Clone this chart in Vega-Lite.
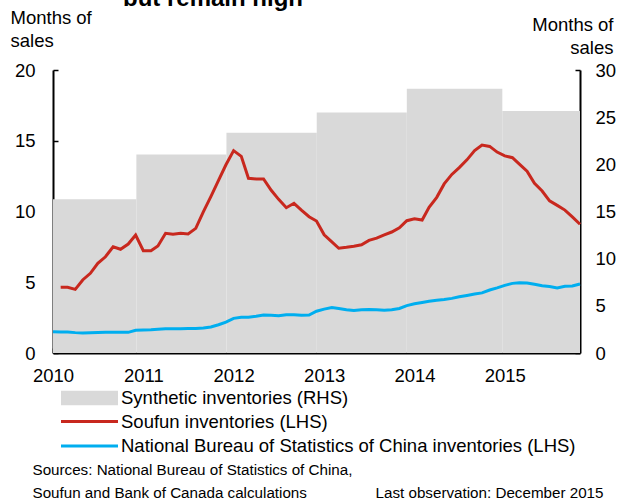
{
  "$schema": "https://vega.github.io/schema/vega-lite/v6.json",
  "width": 527,
  "height": 283,
  "autosize": {"type": "none"},
  "padding": {"left": 53, "top": 70, "right": 46, "bottom": 150},
  "title": {"text": "but remain high", "orient": "top", "anchor": "start", "frame": "group", "font": "Liberation Sans", "fontSize": 24, "fontWeight": "bold", "color": "#000000", "baseline": "alphabetic", "dx": 70, "dy": 22, "offset": 0},
  "config": {
    "view": {"stroke": null},
    "font": "Liberation Sans",
    "axis": {"labelFont": "Liberation Sans", "titleFont": "Liberation Sans", "labelColor": "#000000", "titleColor": "#000000", "domainColor": "#000000", "tickColor": "#000000", "grid": false}
  },
  "datasets": {
    "synthetic": [
      {"series": "Synthetic inventories (RHS)", "start": "2010-01-01", "end": "2010-12-04", "value": 16.3},
      {"series": "Synthetic inventories (RHS)", "start": "2010-12-04", "end": "2011-12-03", "value": 21.05},
      {"series": "Synthetic inventories (RHS)", "start": "2011-12-03", "end": "2012-12-02", "value": 23.35},
      {"series": "Synthetic inventories (RHS)", "start": "2012-12-02", "end": "2013-12-01", "value": 25.5},
      {"series": "Synthetic inventories (RHS)", "start": "2013-12-01", "end": "2014-12-22", "value": 28.0},
      {"series": "Synthetic inventories (RHS)", "start": "2014-12-22", "end": "2015-11-01", "value": 25.65}
    ],
    "monthly": [
      {"series": "Soufun inventories (LHS)", "date": "2010-02-01", "value": 4.64},
      {"series": "Soufun inventories (LHS)", "date": "2010-03-01", "value": 4.65},
      {"series": "Soufun inventories (LHS)", "date": "2010-04-01", "value": 4.5},
      {"series": "Soufun inventories (LHS)", "date": "2010-05-01", "value": 5.16},
      {"series": "Soufun inventories (LHS)", "date": "2010-06-01", "value": 5.63},
      {"series": "Soufun inventories (LHS)", "date": "2010-07-01", "value": 6.34},
      {"series": "Soufun inventories (LHS)", "date": "2010-08-01", "value": 6.8},
      {"series": "Soufun inventories (LHS)", "date": "2010-09-01", "value": 7.5},
      {"series": "Soufun inventories (LHS)", "date": "2010-10-01", "value": 7.33},
      {"series": "Soufun inventories (LHS)", "date": "2010-11-01", "value": 7.7},
      {"series": "Soufun inventories (LHS)", "date": "2010-12-01", "value": 8.34},
      {"series": "Soufun inventories (LHS)", "date": "2011-01-01", "value": 7.23},
      {"series": "Soufun inventories (LHS)", "date": "2011-02-01", "value": 7.23},
      {"series": "Soufun inventories (LHS)", "date": "2011-03-01", "value": 7.56},
      {"series": "Soufun inventories (LHS)", "date": "2011-04-01", "value": 8.46},
      {"series": "Soufun inventories (LHS)", "date": "2011-05-01", "value": 8.39},
      {"series": "Soufun inventories (LHS)", "date": "2011-06-01", "value": 8.46},
      {"series": "Soufun inventories (LHS)", "date": "2011-07-01", "value": 8.41},
      {"series": "Soufun inventories (LHS)", "date": "2011-08-01", "value": 8.81},
      {"series": "Soufun inventories (LHS)", "date": "2011-09-01", "value": 9.99},
      {"series": "Soufun inventories (LHS)", "date": "2011-10-01", "value": 11.05},
      {"series": "Soufun inventories (LHS)", "date": "2011-11-01", "value": 12.2},
      {"series": "Soufun inventories (LHS)", "date": "2011-12-01", "value": 13.3},
      {"series": "Soufun inventories (LHS)", "date": "2012-01-01", "value": 14.3},
      {"series": "Soufun inventories (LHS)", "date": "2012-02-01", "value": 13.9},
      {"series": "Soufun inventories (LHS)", "date": "2012-03-01", "value": 12.35},
      {"series": "Soufun inventories (LHS)", "date": "2012-04-01", "value": 12.3},
      {"series": "Soufun inventories (LHS)", "date": "2012-05-01", "value": 12.3},
      {"series": "Soufun inventories (LHS)", "date": "2012-06-01", "value": 11.5},
      {"series": "Soufun inventories (LHS)", "date": "2012-07-01", "value": 10.86},
      {"series": "Soufun inventories (LHS)", "date": "2012-08-01", "value": 10.27},
      {"series": "Soufun inventories (LHS)", "date": "2012-09-01", "value": 10.58},
      {"series": "Soufun inventories (LHS)", "date": "2012-10-01", "value": 10.1},
      {"series": "Soufun inventories (LHS)", "date": "2012-11-01", "value": 9.63},
      {"series": "Soufun inventories (LHS)", "date": "2012-12-01", "value": 9.33},
      {"series": "Soufun inventories (LHS)", "date": "2013-01-01", "value": 8.35},
      {"series": "Soufun inventories (LHS)", "date": "2013-02-01", "value": 7.85},
      {"series": "Soufun inventories (LHS)", "date": "2013-03-01", "value": 7.4},
      {"series": "Soufun inventories (LHS)", "date": "2013-04-01", "value": 7.47},
      {"series": "Soufun inventories (LHS)", "date": "2013-05-01", "value": 7.55},
      {"series": "Soufun inventories (LHS)", "date": "2013-06-01", "value": 7.65},
      {"series": "Soufun inventories (LHS)", "date": "2013-07-01", "value": 7.96},
      {"series": "Soufun inventories (LHS)", "date": "2013-08-01", "value": 8.12},
      {"series": "Soufun inventories (LHS)", "date": "2013-09-01", "value": 8.35},
      {"series": "Soufun inventories (LHS)", "date": "2013-10-01", "value": 8.55},
      {"series": "Soufun inventories (LHS)", "date": "2013-11-01", "value": 8.85},
      {"series": "Soufun inventories (LHS)", "date": "2013-12-01", "value": 9.35},
      {"series": "Soufun inventories (LHS)", "date": "2014-01-01", "value": 9.49},
      {"series": "Soufun inventories (LHS)", "date": "2014-02-01", "value": 9.4},
      {"series": "Soufun inventories (LHS)", "date": "2014-03-01", "value": 10.3},
      {"series": "Soufun inventories (LHS)", "date": "2014-04-01", "value": 11.0},
      {"series": "Soufun inventories (LHS)", "date": "2014-05-01", "value": 11.95},
      {"series": "Soufun inventories (LHS)", "date": "2014-06-01", "value": 12.62},
      {"series": "Soufun inventories (LHS)", "date": "2014-07-01", "value": 13.1},
      {"series": "Soufun inventories (LHS)", "date": "2014-08-01", "value": 13.65},
      {"series": "Soufun inventories (LHS)", "date": "2014-09-01", "value": 14.3},
      {"series": "Soufun inventories (LHS)", "date": "2014-10-01", "value": 14.7},
      {"series": "Soufun inventories (LHS)", "date": "2014-11-01", "value": 14.6},
      {"series": "Soufun inventories (LHS)", "date": "2014-12-01", "value": 14.2},
      {"series": "Soufun inventories (LHS)", "date": "2015-01-01", "value": 13.93},
      {"series": "Soufun inventories (LHS)", "date": "2015-02-01", "value": 13.8},
      {"series": "Soufun inventories (LHS)", "date": "2015-03-01", "value": 13.35},
      {"series": "Soufun inventories (LHS)", "date": "2015-04-01", "value": 12.85},
      {"series": "Soufun inventories (LHS)", "date": "2015-05-01", "value": 12.0},
      {"series": "Soufun inventories (LHS)", "date": "2015-06-01", "value": 11.45},
      {"series": "Soufun inventories (LHS)", "date": "2015-07-01", "value": 10.75},
      {"series": "Soufun inventories (LHS)", "date": "2015-08-01", "value": 10.43},
      {"series": "Soufun inventories (LHS)", "date": "2015-09-01", "value": 10.1},
      {"series": "Soufun inventories (LHS)", "date": "2015-10-01", "value": 9.62},
      {"series": "Soufun inventories (LHS)", "date": "2015-11-01", "value": 9.1},
      {"series": "National Bureau of Statistics of China inventories (LHS)", "date": "2010-01-01", "value": 1.51},
      {"series": "National Bureau of Statistics of China inventories (LHS)", "date": "2010-02-01", "value": 1.49},
      {"series": "National Bureau of Statistics of China inventories (LHS)", "date": "2010-03-01", "value": 1.48},
      {"series": "National Bureau of Statistics of China inventories (LHS)", "date": "2010-04-01", "value": 1.44},
      {"series": "National Bureau of Statistics of China inventories (LHS)", "date": "2010-05-01", "value": 1.42},
      {"series": "National Bureau of Statistics of China inventories (LHS)", "date": "2010-06-01", "value": 1.43},
      {"series": "National Bureau of Statistics of China inventories (LHS)", "date": "2010-07-01", "value": 1.45},
      {"series": "National Bureau of Statistics of China inventories (LHS)", "date": "2010-08-01", "value": 1.46},
      {"series": "National Bureau of Statistics of China inventories (LHS)", "date": "2010-09-01", "value": 1.46},
      {"series": "National Bureau of Statistics of China inventories (LHS)", "date": "2010-10-01", "value": 1.46},
      {"series": "National Bureau of Statistics of China inventories (LHS)", "date": "2010-11-01", "value": 1.46},
      {"series": "National Bureau of Statistics of China inventories (LHS)", "date": "2010-12-01", "value": 1.6},
      {"series": "National Bureau of Statistics of China inventories (LHS)", "date": "2011-01-01", "value": 1.63},
      {"series": "National Bureau of Statistics of China inventories (LHS)", "date": "2011-02-01", "value": 1.65},
      {"series": "National Bureau of Statistics of China inventories (LHS)", "date": "2011-03-01", "value": 1.68},
      {"series": "National Bureau of Statistics of China inventories (LHS)", "date": "2011-04-01", "value": 1.72},
      {"series": "National Bureau of Statistics of China inventories (LHS)", "date": "2011-05-01", "value": 1.72},
      {"series": "National Bureau of Statistics of China inventories (LHS)", "date": "2011-06-01", "value": 1.72},
      {"series": "National Bureau of Statistics of China inventories (LHS)", "date": "2011-07-01", "value": 1.73},
      {"series": "National Bureau of Statistics of China inventories (LHS)", "date": "2011-08-01", "value": 1.74},
      {"series": "National Bureau of Statistics of China inventories (LHS)", "date": "2011-09-01", "value": 1.76},
      {"series": "National Bureau of Statistics of China inventories (LHS)", "date": "2011-10-01", "value": 1.84},
      {"series": "National Bureau of Statistics of China inventories (LHS)", "date": "2011-11-01", "value": 2.0},
      {"series": "National Bureau of Statistics of China inventories (LHS)", "date": "2011-12-01", "value": 2.18},
      {"series": "National Bureau of Statistics of China inventories (LHS)", "date": "2012-01-01", "value": 2.45},
      {"series": "National Bureau of Statistics of China inventories (LHS)", "date": "2012-02-01", "value": 2.52},
      {"series": "National Bureau of Statistics of China inventories (LHS)", "date": "2012-03-01", "value": 2.53},
      {"series": "National Bureau of Statistics of China inventories (LHS)", "date": "2012-04-01", "value": 2.6},
      {"series": "National Bureau of Statistics of China inventories (LHS)", "date": "2012-05-01", "value": 2.68},
      {"series": "National Bureau of Statistics of China inventories (LHS)", "date": "2012-06-01", "value": 2.66},
      {"series": "National Bureau of Statistics of China inventories (LHS)", "date": "2012-07-01", "value": 2.64},
      {"series": "National Bureau of Statistics of China inventories (LHS)", "date": "2012-08-01", "value": 2.7},
      {"series": "National Bureau of Statistics of China inventories (LHS)", "date": "2012-09-01", "value": 2.71},
      {"series": "National Bureau of Statistics of China inventories (LHS)", "date": "2012-10-01", "value": 2.67},
      {"series": "National Bureau of Statistics of China inventories (LHS)", "date": "2012-11-01", "value": 2.68},
      {"series": "National Bureau of Statistics of China inventories (LHS)", "date": "2012-12-01", "value": 2.95},
      {"series": "National Bureau of Statistics of China inventories (LHS)", "date": "2013-01-01", "value": 3.1},
      {"series": "National Bureau of Statistics of China inventories (LHS)", "date": "2013-02-01", "value": 3.22},
      {"series": "National Bureau of Statistics of China inventories (LHS)", "date": "2013-03-01", "value": 3.15},
      {"series": "National Bureau of Statistics of China inventories (LHS)", "date": "2013-04-01", "value": 3.05},
      {"series": "National Bureau of Statistics of China inventories (LHS)", "date": "2013-05-01", "value": 3.0},
      {"series": "National Bureau of Statistics of China inventories (LHS)", "date": "2013-06-01", "value": 3.06},
      {"series": "National Bureau of Statistics of China inventories (LHS)", "date": "2013-07-01", "value": 3.08},
      {"series": "National Bureau of Statistics of China inventories (LHS)", "date": "2013-08-01", "value": 3.05},
      {"series": "National Bureau of Statistics of China inventories (LHS)", "date": "2013-09-01", "value": 3.02},
      {"series": "National Bureau of Statistics of China inventories (LHS)", "date": "2013-10-01", "value": 3.05},
      {"series": "National Bureau of Statistics of China inventories (LHS)", "date": "2013-11-01", "value": 3.15},
      {"series": "National Bureau of Statistics of China inventories (LHS)", "date": "2013-12-01", "value": 3.35},
      {"series": "National Bureau of Statistics of China inventories (LHS)", "date": "2014-01-01", "value": 3.48},
      {"series": "National Bureau of Statistics of China inventories (LHS)", "date": "2014-02-01", "value": 3.57},
      {"series": "National Bureau of Statistics of China inventories (LHS)", "date": "2014-03-01", "value": 3.65},
      {"series": "National Bureau of Statistics of China inventories (LHS)", "date": "2014-04-01", "value": 3.72},
      {"series": "National Bureau of Statistics of China inventories (LHS)", "date": "2014-05-01", "value": 3.78},
      {"series": "National Bureau of Statistics of China inventories (LHS)", "date": "2014-06-01", "value": 3.86},
      {"series": "National Bureau of Statistics of China inventories (LHS)", "date": "2014-07-01", "value": 3.97},
      {"series": "National Bureau of Statistics of China inventories (LHS)", "date": "2014-08-01", "value": 4.07},
      {"series": "National Bureau of Statistics of China inventories (LHS)", "date": "2014-09-01", "value": 4.17},
      {"series": "National Bureau of Statistics of China inventories (LHS)", "date": "2014-10-01", "value": 4.25},
      {"series": "National Bureau of Statistics of China inventories (LHS)", "date": "2014-11-01", "value": 4.45},
      {"series": "National Bureau of Statistics of China inventories (LHS)", "date": "2014-12-01", "value": 4.6},
      {"series": "National Bureau of Statistics of China inventories (LHS)", "date": "2015-01-01", "value": 4.78},
      {"series": "National Bureau of Statistics of China inventories (LHS)", "date": "2015-02-01", "value": 4.92},
      {"series": "National Bureau of Statistics of China inventories (LHS)", "date": "2015-03-01", "value": 4.97},
      {"series": "National Bureau of Statistics of China inventories (LHS)", "date": "2015-04-01", "value": 4.95},
      {"series": "National Bureau of Statistics of China inventories (LHS)", "date": "2015-05-01", "value": 4.86},
      {"series": "National Bureau of Statistics of China inventories (LHS)", "date": "2015-06-01", "value": 4.75},
      {"series": "National Bureau of Statistics of China inventories (LHS)", "date": "2015-07-01", "value": 4.7},
      {"series": "National Bureau of Statistics of China inventories (LHS)", "date": "2015-08-01", "value": 4.6},
      {"series": "National Bureau of Statistics of China inventories (LHS)", "date": "2015-09-01", "value": 4.72},
      {"series": "National Bureau of Statistics of China inventories (LHS)", "date": "2015-10-01", "value": 4.74},
      {"series": "National Bureau of Statistics of China inventories (LHS)", "date": "2015-11-01", "value": 4.88}
    ]
  },
  "layer": [
    {
      "data": {"name": "synthetic"},
      "mark": {"type": "rect", "clip": true},
      "encoding": {
        "x": {
          "field": "start", "type": "temporal",
          "scale": {"type": "utc", "domain": [{"year": 2010, "month": 1, "date": 1, "utc": true}, {"year": 2015, "month": 11, "date": 1, "utc": true}]},
          "axis": {
            "orient": "bottom",
            "values": [
              {"year": 2010, "month": 1, "date": 1, "utc": true},
              {"year": 2011, "month": 1, "date": 1, "utc": true},
              {"year": 2012, "month": 1, "date": 1, "utc": true},
              {"year": 2013, "month": 1, "date": 1, "utc": true},
              {"year": 2014, "month": 1, "date": 1, "utc": true},
              {"year": 2015, "month": 1, "date": 1, "utc": true}
            ],
            "format": "%Y",
            "labelFontSize": 18.5,
            "labelPadding": 18,
            "labelFlush": false,
            "labelOverlap": false,
            "tickSize": -5,
            "tickWidth": 1.5,
            "domainWidth": 2,
            "title": ["Sources: National Bureau of Statistics of China,", "Soufun and Bank of Canada calculations"],
            "titleFontSize": 15.2,
            "titleFontWeight": "normal",
            "titleAlign": "left",
            "titleAnchor": "start",
            "titleBaseline": "alphabetic",
            "titleLineHeight": 23,
            "titleX": -21,
            "titleY": 121
          }
        },
        "x2": {"field": "end"},
        "y": {
          "field": "value", "type": "quantitative",
          "scale": {"domain": [0, 30], "nice": false},
          "axis": {
            "orient": "right",
            "values": [0, 5, 10, 15, 20, 25, 30],
            "labelFontSize": 18.5,
            "labelPadding": 20,
            "tickSize": -5,
            "tickWidth": 1.5,
            "domainWidth": 2,
            "title": ["Months of", "sales"],
            "titleFontSize": 18.5,
            "titleFontWeight": "normal",
            "titleAngle": 0,
            "titleAlign": "right",
            "titleBaseline": "alphabetic",
            "titleLineHeight": 23,
            "titleX": 33,
            "titleY": -40
          }
        },
        "y2": {"datum": 0},
        "fill": {
          "field": "series", "type": "nominal",
          "scale": {"domain": ["Synthetic inventories (RHS)"], "range": ["#d9d9d9"]},
          "legend": {
            "orient": "none", "legendX": 8, "legendY": 318, "title": null, "padding": 0,
            "symbolType": "M-1,-0.72H4.7V0.72H-1Z", "symbolSize": 400, "symbolStrokeWidth": 0,
            "labelFont": "Liberation Sans", "labelFontSize": 18.5, "labelColor": "#000000", "labelOffset": 40, "labelLimit": 600
          }
        }
      }
    },
    {
      "data": {"name": "monthly"},
      "mark": {"type": "line", "strokeWidth": 3},
      "encoding": {
        "x": {
          "field": "date", "type": "temporal",
          "axis": {
            "orient": "top",
            "domain": false, "ticks": false, "labels": false,
            "title": "Last observation: December 2015",
            "titleFontSize": 15.2,
            "titleFontWeight": "normal",
            "titleAlign": "right",
            "titleAnchor": "end",
            "titleBaseline": "alphabetic",
            "titleX": 550,
            "titleY": 427
          }
        },
        "y": {
          "field": "value", "type": "quantitative",
          "scale": {"domain": [0, 20], "nice": false},
          "axis": {
            "orient": "left",
            "values": [0, 5, 10, 15, 20],
            "labelFontSize": 18.5,
            "labelPadding": 23,
            "tickSize": -5,
            "tickWidth": 1.5,
            "domainWidth": 2,
            "title": ["Months of", "sales"],
            "titleFontSize": 18.5,
            "titleFontWeight": "normal",
            "titleAngle": 0,
            "titleAlign": "left",
            "titleBaseline": "alphabetic",
            "titleLineHeight": 23,
            "titleX": -43,
            "titleY": -47
          }
        },
        "stroke": {
          "field": "series", "type": "nominal",
          "scale": {"domain": ["Soufun inventories (LHS)", "National Bureau of Statistics of China inventories (LHS)"], "range": ["#c8281e", "#00aeef"]},
          "legend": {
            "orient": "none", "legendX": 8, "legendY": 340, "title": null, "padding": 0,
            "symbolType": "M-1.15,0H4.55", "symbolSize": 400, "symbolStrokeWidth": 3,
            "labelFont": "Liberation Sans", "labelFontSize": 18.5, "labelColor": "#000000", "labelOffset": 37, "labelLimit": 600, "rowPadding": 3.5
          }
        }
      }
    }
  ],
  "resolve": {"scale": {"y": "independent", "fill": "independent", "stroke": "independent"}, "axis": {"x": "independent", "y": "independent"}, "legend": {"fill": "independent", "stroke": "independent"}}
}
